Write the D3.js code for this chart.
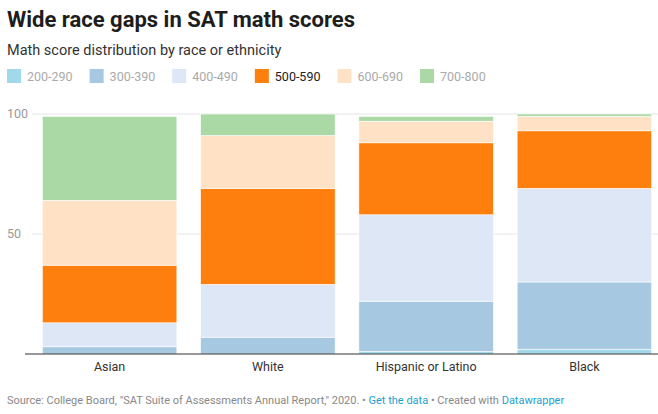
<!DOCTYPE html>
<html><head><meta charset="utf-8">
<script src="https://cdn.jsdelivr.net/npm/d3@7"></script>
<style>
body{margin:0;background:#fff;font-family:Roboto,sans-serif;}
</style></head><body>
<svg id="c" width="658" height="414"></svg>
<script>
var groups = ["Asian", "White", "Hispanic or Latino", "Black"];
var bands = ["200-290", "300-390", "400-490", "500-590", "600-690", "700-800"];
var colors = ["#a0d9e9", "#a6c8e0", "#dde7f5", "#ff7f0e", "#ffe1c5", "#aad9a6"];
var s200 = [0, 0, 1, 2];
var s300 = [3, 7, 21, 28];
var s400 = [10, 22, 36, 39];
var s500 = [24, 40, 30, 24];
var s600 = [27, 22, 9, 6];
var s700 = [35, 9, 2, 1];
var yTicks = [50, 100];

var series = [s200, s300, s400, s500, s600, s700];
var svg = d3.select("#c");

svg.append("text").attr("x", 7).attr("y", 27).attr("font-size", 22).attr("font-weight", 700)
  .attr("fill", "#1d1d1d").text("Wide race gaps in SAT math scores");
svg.append("text").attr("x", 7).attr("y", 55).attr("font-size", 14.5).attr("fill", "#333")
  .text("Math score distribution by race or ethnicity");

// legend
var lx = 7;
bands.forEach(function(b, i){
  svg.append("rect").attr("x", lx).attr("y", 69).attr("width", 14).attr("height", 14).attr("fill", colors[i]);
  var t = svg.append("text").attr("x", lx + 20).attr("y", 81).attr("font-size", 12.5)
    .attr("fill", i == 3 ? "#222" : "#aaa").text(b);
  lx += 20 + t.node().getComputedTextLength() + 17;
});

var y = d3.scaleLinear().domain([0, 100]).range([354, 114]);
var x = d3.scaleBand().domain(groups).range([36, 658]).paddingInner(0.15).paddingOuter(0.04);

yTicks.forEach(function(t){
  svg.append("line").attr("x1", 32).attr("x2", 658).attr("y1", y(t)).attr("y2", y(t))
    .attr("stroke", "#e5e5e5");
  svg.append("text").attr("x", 7).attr("y", y(t) + 4).attr("font-size", 12.5).attr("fill", "#999").text(t);
});

groups.forEach(function(g, gi){
  var acc = 0;
  series.forEach(function(s, si){
    var v = s[gi];
    if (v > 0) {
      svg.append("rect").attr("x", x(g)).attr("width", x.bandwidth())
        .attr("y", y(acc + v)).attr("height", y(acc) - y(acc + v))
        .attr("fill", colors[si]).attr("stroke", "#fff").attr("stroke-width", 0.6);
    }
    acc += v;
  });
  svg.append("text").attr("x", x(g) + x.bandwidth() / 2).attr("y", 371).attr("text-anchor", "middle")
    .attr("font-size", 12.5).attr("fill", "#333").text(g);
});

svg.append("line").attr("x1", 25).attr("x2", 658).attr("y1", 354).attr("y2", 354)
  .attr("stroke", "#333").attr("stroke-width", 1.2);

var f = svg.append("text").attr("x", 7).attr("y", 404).attr("font-size", 11).attr("fill", "#888");
f.append("tspan").text("Source: College Board, \"SAT Suite of Assessments Annual Report,\" 2020. • ");
f.append("tspan").attr("fill", "#1d9fcf").text("Get the data");
f.append("tspan").text(" • Created with ");
f.append("tspan").attr("fill", "#1d9fcf").text("Datawrapper");
</script>
</body></html>
